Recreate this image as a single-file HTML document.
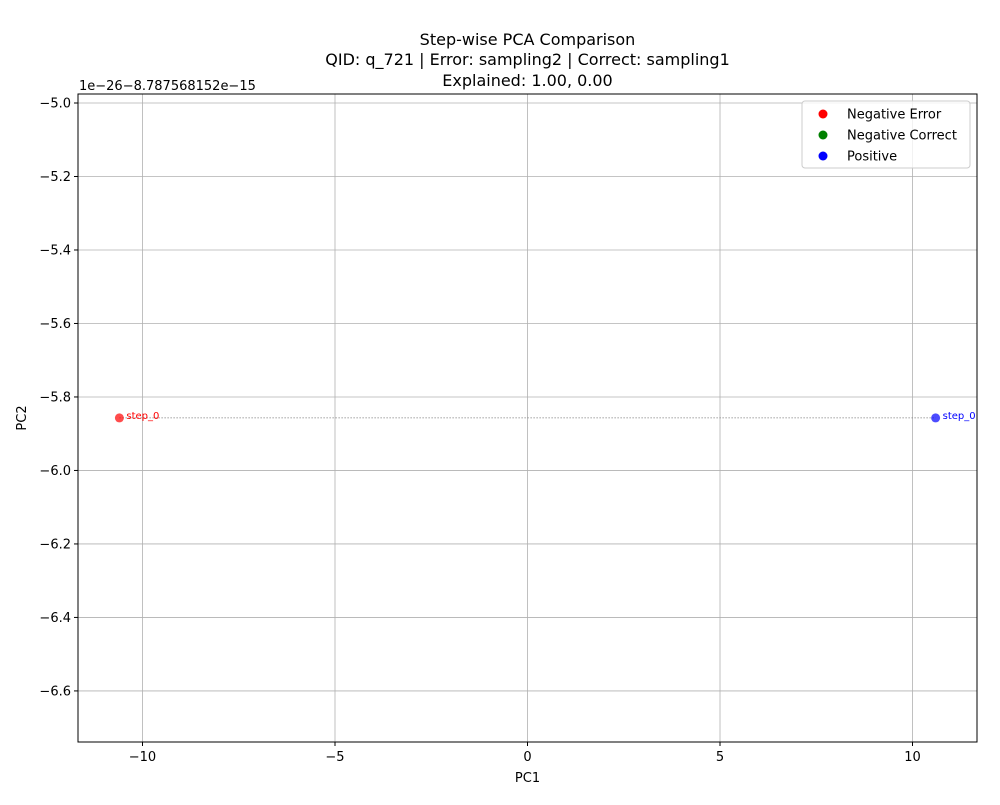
<!DOCTYPE html>
<html><head><meta charset="utf-8"><style>
body{margin:0;background:#fff;}
svg text{font-family:"DejaVu Sans","Liberation Sans",sans-serif;}
</style></head><body>
<svg width="1000" height="800" id="chart">
<rect width="1000" height="800" fill="#fff"/>
<text x="527.5" y="45" text-anchor="middle" font-size="16">Step-wise PCA Comparison</text>
<text x="527.5" y="65" text-anchor="middle" font-size="16">QID: q_721 | Error: sampling2 | Correct: sampling1</text>
<text x="527.5" y="86" text-anchor="middle" font-size="16">Explained: 1.00, 0.00</text>
<text x="79" y="90" font-size="13">1e−26−8.787568152e−15</text>
<g id="grid"></g>
<g id="marks"></g>
<rect x="78" y="94" width="899" height="648" fill="none" stroke="#000" stroke-width="1"/>
<text x="527.5" y="782" text-anchor="middle" font-size="13">PC1</text>
<text x="26" y="418" text-anchor="middle" font-size="13" transform="rotate(-90 26 418)">PC2</text>
<g>
<rect x="802" y="101" width="168" height="67" rx="3" fill="#fff" fill-opacity="0.8" stroke="#ccc"/>
<g><circle cx="823" cy="114" r="4.5" fill="red"/><text x="847" y="118.5" font-size="13">Negative Error</text></g>
<g><circle cx="823" cy="135" r="4.5" fill="green"/><text x="847" y="139.5" font-size="13">Negative Correct</text></g>
<g><circle cx="823" cy="156" r="4.5" fill="blue"/><text x="847" y="160.5" font-size="13">Positive</text></g>
</g>
</svg>
<script>
const xTicks=[-10,-5,0,5,10];
const yTicks=[-5.0,-5.2,-5.4,-5.6,-5.8,-6.0,-6.2,-6.4,-6.6];
const pointGroups=["Negative Error","Positive"];
const pointX=[-10.6,10.6];
const pointY=[-5.857,-5.857];
const pointLabels=["step_0","step_0"];
const pointColors=["red","blue"];
const NS="http://www.w3.org/2000/svg";
const L=78,R=977,T=94,B=742,xmin=-11.675,xmax=11.675,ymax=-4.9755,ymin=-6.739;
const sx=v=>L+(v-xmin)/(xmax-xmin)*(R-L);
const sy=v=>T+(ymax-v)/(ymax-ymin)*(B-T);
function mk(tag,attrs,parent){const e=document.createElementNS(NS,tag);for(const k in attrs)e.setAttribute(k,attrs[k]);parent.appendChild(e);return e;}
const grid=document.getElementById('grid'),marks=document.getElementById('marks');
xTicks.forEach(v=>{const x=sx(v);
const g=mk('line',{x1:x,x2:x,y1:T,y2:B,stroke:'#b0b0b0','stroke-width':0.8},grid);


mk('line',{x1:x,x2:x,y1:B,y2:B+4,stroke:'#000'},grid);
const t=mk('text',{x:x,y:B+19,'text-anchor':'middle','font-size':13},grid);t.textContent=String(v).replace('-','−');

});
yTicks.forEach(v=>{const y=sy(v);
const g=mk('line',{x1:L,x2:R,y1:y,y2:y,stroke:'#b0b0b0','stroke-width':0.8},grid);


mk('line',{x1:L-4,x2:L,y1:y,y2:y,stroke:'#000'},grid);
const t=mk('text',{x:L-7,y:y+4.5,'text-anchor':'end','font-size':13},grid);t.textContent=v.toFixed(1).replace('-','−');

});
const ln=mk('line',{x1:sx(pointX[0]),y1:sy(pointY[0]),x2:sx(pointX[1]),y2:sy(pointY[1]),stroke:'gray','stroke-width':0.8,'stroke-dasharray':'1.5,1.5'},marks);


pointX.forEach((v,i)=>{const x=sx(v),y=sy(pointY[i]);
const c=mk('circle',{cx:x,cy:y,r:4.5,fill:pointColors[i],'fill-opacity':0.7},marks);


const t=mk('text',{x:x+7,y:y+1,'font-size':10,fill:pointColors[i]},marks);t.textContent=pointLabels[i];

});
</script>
</body></html>
